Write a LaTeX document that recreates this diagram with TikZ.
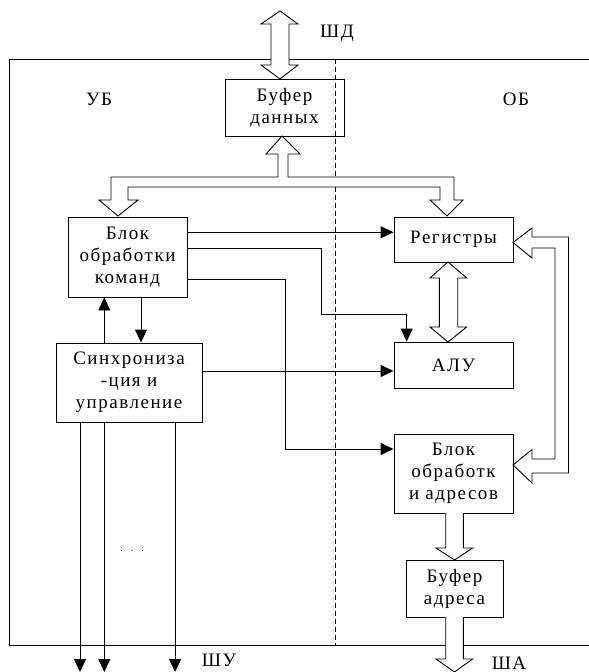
\documentclass[tikz,border=0pt]{standalone}
\usepackage{fontspec}
\setmainfont{Liberation Serif}[LetterSpace=8]
\usetikzlibrary{arrows.meta}
\tikzset{
  box/.style={draw, line width=0.9pt, inner sep=0pt, align=center, font=\fontsize{19}{22}\selectfont},
  lbl/.style={font=\fontsize{19}{22.5}\selectfont, inner sep=0pt},
  ctl/.style={line width=0.9pt, -{Triangle[length=13pt,width=12pt]}},
  wire/.style={line width=0.9pt},
  hollow/.style={draw, line width=0.9pt, fill=white, line join=miter},
  frame/.style={line width=0.9pt},
}
\begin{document}
\begin{tikzpicture}[x=1pt,y=-1pt]
\useasboundingbox (0,0) rectangle (589,672);
\clip (0,0) rectangle (589,672);
\fill[white] (0,0) rectangle (589,672);
% frame
\draw[frame] (600,59) -- (9,59) -- (9,645) -- (600,645);
\draw[line width=0.9pt, dash pattern=on 5pt off 3pt] (335,59) -- (335,645);
% labels
\node[lbl] (shd) at (337,33) {ШД};
\node[lbl] (ub) at (99,99) {УБ};
\node[lbl] (ob) at (516,99) {ОБ};
\node[lbl] (shu) at (219,660) {ШУ};
\node[lbl] (sha) at (509,663) {ША};
\node[font=\fontsize{10}{12}\selectfont, inner sep=0pt] (dots) at (132,551) {.\hspace{8pt}.\hspace{8pt}.};
% boxes
\node[box, minimum width=119pt, minimum height=57pt] (bufd) at (284.5,107.5) {Буфер\\данных};
\node[box, minimum width=119pt, minimum height=80pt] (cmd) at (127.5,257) {Блок\\обработки\\команд};
\node[box, minimum width=146pt, minimum height=79pt] (sync) at (129,382.5) {Синхрониза\\-ция и\\управление};
\node[box, minimum width=119pt, minimum height=45pt] (reg) at (453.5,239.5) {Регистры};
\node[box, minimum width=119pt, minimum height=46pt] (alu) at (453.5,365) {АЛУ};
\node[box, minimum width=119pt, minimum height=79pt] (addr) at (453.5,473.5) {Блок\\обработк\\и адресов};
\node[box, minimum width=97pt, minimum height=57pt] (bufa) at (454.5,588.5) {Буфер\\адреса};
% hollow arrows
\draw[hollow] (280,11) -- (298,24) -- (289,24) -- (289,65) -- (298,65) -- (280,79) -- (261,65) -- (271,65) -- (271,24) -- (261,24) -- cycle;
\draw[hollow] (111,177) -- (278,177) -- (278,154) -- (266,154) -- (282,136) -- (300,154) -- (288,154) -- (288,177) -- (454,177) -- (454,200) -- (463,200) -- (447,216) -- (430,200) -- (440,200) -- (440,187) -- (128,187) -- (128,200) -- (138,200) -- (118,216) -- (99,200) -- (111,200) -- cycle;
\draw[hollow] (448,262) -- (466.7,278) -- (457.7,278) -- (457.7,327) -- (466.7,327) -- (448,342) -- (430,327) -- (439.3,327) -- (439.3,278) -- (430,278) -- cycle;
\draw[hollow] (513,242.5) -- (532,228) -- (532,237) -- (568.5,237) -- (568.5,473) -- (532,473) -- (532,483) -- (513,465) -- (532,449.5) -- (532,459) -- (555,459) -- (555,248) -- (532,248) -- (532,258) -- cycle;
\draw[hollow] (445.7,513) -- (445.7,548) -- (436,548) -- (454.5,560) -- (472.7,548) -- (463.3,548) -- (463.3,513);
\draw[hollow] (445.7,617) -- (445.7,659) -- (436,659) -- (454.5,672) -- (472.7,659) -- (463.3,659) -- (463.3,617);
% control lines
\draw[ctl] (cmd.east |- 0,232.3) -- (reg.west |- 0,232.3);
\draw[ctl] (cmd.east |- 0,248.3) -- (321.7,248.3) -- (321.7,314.3) -- (406.7,314.3) -- (406.7,0 |- alu.north);
\draw[ctl] (cmd.east |- 0,279) -- (285.7,279) -- (285.7,449) -- (addr.west |- 0,449);
\draw[ctl] (sync.east |- 0,371) -- (alu.west |- 0,371);
\draw[ctl] (104.3,0 |- sync.north) -- (104.3,0 |- cmd.south);
\draw[ctl] (141,0 |- cmd.south) -- (141,0 |- sync.north);
\coordinate (o1) at (80,672);
\coordinate (o2) at (104.3,672);
\coordinate (o3) at (175,672);
\draw[ctl] (sync.south -| o1) -- (o1);
\draw[ctl] (sync.south -| o2) -- (o2);
\draw[ctl] (sync.south -| o3) -- (o3);
\end{tikzpicture}
\end{document}
